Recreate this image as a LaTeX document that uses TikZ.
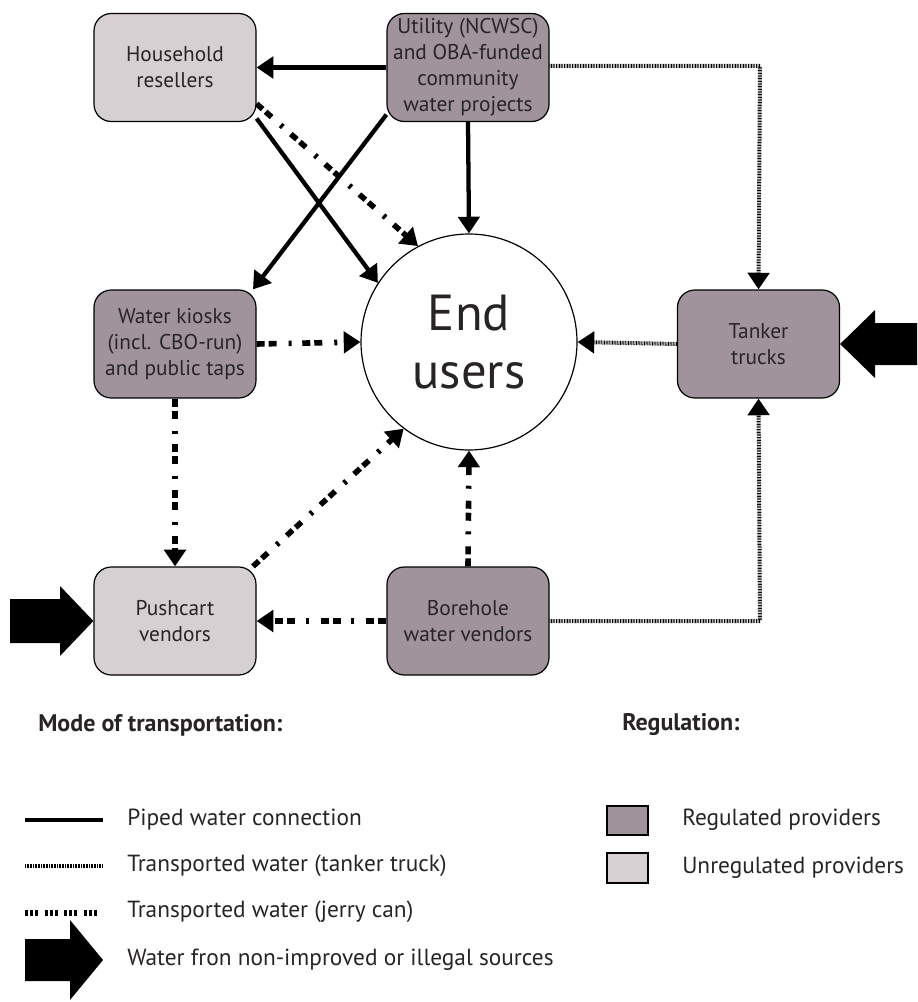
\documentclass[tikz,border=0pt]{standalone}
\usepackage{fontspec}
\setmainfont{PT Sans}
\usetikzlibrary{arrows.meta}

\definecolor{regfill}{RGB}{160,147,155}
\definecolor{unregfill}{RGB}{214,208,210}
\definecolor{inktext}{RGB}{40,36,38}

\begin{document}
\begin{tikzpicture}[x=0.75pt,y=0.75pt,yscale=-1,xscale=1,
  provider/.style={draw, line width=0.9pt, rounded corners=13pt, minimum width=121.5pt, minimum height=81pt, align=center, text=inktext, font=\fontsize{16}{19.5}\selectfont, inner sep=1pt},
  regulated/.style={provider, fill=regfill},
  unregulated/.style={provider, fill=unregfill},
  tip/.style={-{Triangle[length=12.5pt,width=16pt]}},
  piped/.style={tip, line width=3.2pt},
  tanker/.style={tip, line width=3pt, dash pattern=on 0.6pt off 0.6pt},
  jerrycan/.style={tip, line width=4.2pt, dash pattern=on 6pt off 3pt on 6pt off 9pt on 2.25pt off 8pt},
  bigarrow/.style={fill=black, draw=none},
  legendtext/.style={anchor=west, text=inktext, font=\fontsize{17.5}{20}\selectfont, inner sep=0pt}]
\useasboundingbox (0,0) rectangle (917,1002);

% providers
\node [unregulated] (house) at (175,67.5) {Household\\resellers};
\node [regulated] (utility) at (468,67.5) {Utility (NCWSC)\\and OBA-funded\\community\\water projects};
\node [regulated] (kiosk) at (175,344) {Water kiosks\\(incl. CBO-run)\\and public taps};
\node [regulated] (tanker) at (758.5,344) {Tanker\\trucks};
\node [unregulated] (push) at (175,621) {Pushcart\\vendors};
\node [regulated] (bore) at (468,621) {Borehole\\water vendors};

% end users
\node [circle, draw, line width=0.9pt, fill=white, minimum size=162pt, inner sep=0pt, align=center, text=inktext, font=\fontsize{38}{44}\selectfont] (users) at (469,342) {End\\users};

% piped water
\draw [piped] (utility.west) -- (house.east);
\draw [piped] (utility.south) -- (users.north);
\draw [piped] (utility.210) -- (kiosk.35);
\draw [piped] (house.-32) -- (users.147);

% tanker trucks
\coordinate (tankN) at (760,66);
\coordinate (tankS) at (760,621);
\draw [tanker] (utility.east |- tankN) -- (tankN) -- (tanker.north);
\draw [tanker] (bore.east) -- (tankS) -- (tanker.south);
\draw [tanker] (tanker.west) -- (users.east);

% jerry cans
\draw [jerrycan] (house.-24) -- (users.118);
\draw [jerrycan] (kiosk.east) -- (users.west);
\draw [jerrycan] (kiosk.south) -- (push.north);
\draw [jerrycan] (push.35) -- (users.233);
\draw [jerrycan] (bore.north) -- (users.south);
\draw [jerrycan] (bore.west) -- (push.east);

% non-improved sources
\draw [bigarrow] (917,323) -- (875,323) -- (875,310) -- (tanker.east) -- (875,378) -- (875,365) -- (917,365) -- cycle;
\draw [bigarrow] (10,599) -- (60,599) -- (60,586) -- (push.west) -- (60,656) -- (60,643) -- (10,643) -- cycle;

% legend
\node [legendtext, font=\fontsize{18}{20}\selectfont\bfseries] (modehead) at (38,725) {Mode of transportation:};
\node [legendtext, font=\fontsize{18}{20}\selectfont\bfseries] (reghead) at (622,725) {Regulation:};

\coordinate (lpA) at (25,820);
\coordinate (lpB) at (103,820);
\draw [line width=3.2pt] (lpA) -- (lpB);
\node [legendtext] (lpiped) at (127,820) {Piped water connection};

\coordinate (ltA) at (25,866);
\coordinate (ltB) at (103,866);
\draw [line width=3pt, dash pattern=on 0.6pt off 0.6pt] (ltA) -- (ltB);
\node [legendtext] (ltanker) at (127,866) {Transported water (tanker truck)};

\coordinate (ljA) at (25,913);
\coordinate (ljB) at (103,913);
\draw [line width=4.2pt, dash pattern=on 2.25pt off 1.5pt on 2.25pt off 1.5pt on 2.25pt off 5pt] (ljA) -- (ljB);
\node [legendtext] (ljerry) at (127,912) {Transported water (jerry can)};

\draw [bigarrow] (25,939) -- (70,939) -- (70,920) -- (103,960) -- (70,1000) -- (70,981) -- (25,981) -- cycle;
\node [legendtext] (lsource) at (127,960) {Water fron non-improved or illegal sources};

\draw [fill=regfill, line width=0.9pt] (607,806) rectangle (648,835);
\node [legendtext] (lreg) at (682,820) {Regulated providers};
\draw [fill=unregfill, line width=0.9pt] (607,853) rectangle (648,883);
\node [legendtext] (lunreg) at (682,868) {Unregulated providers};

\end{tikzpicture}
\end{document}
